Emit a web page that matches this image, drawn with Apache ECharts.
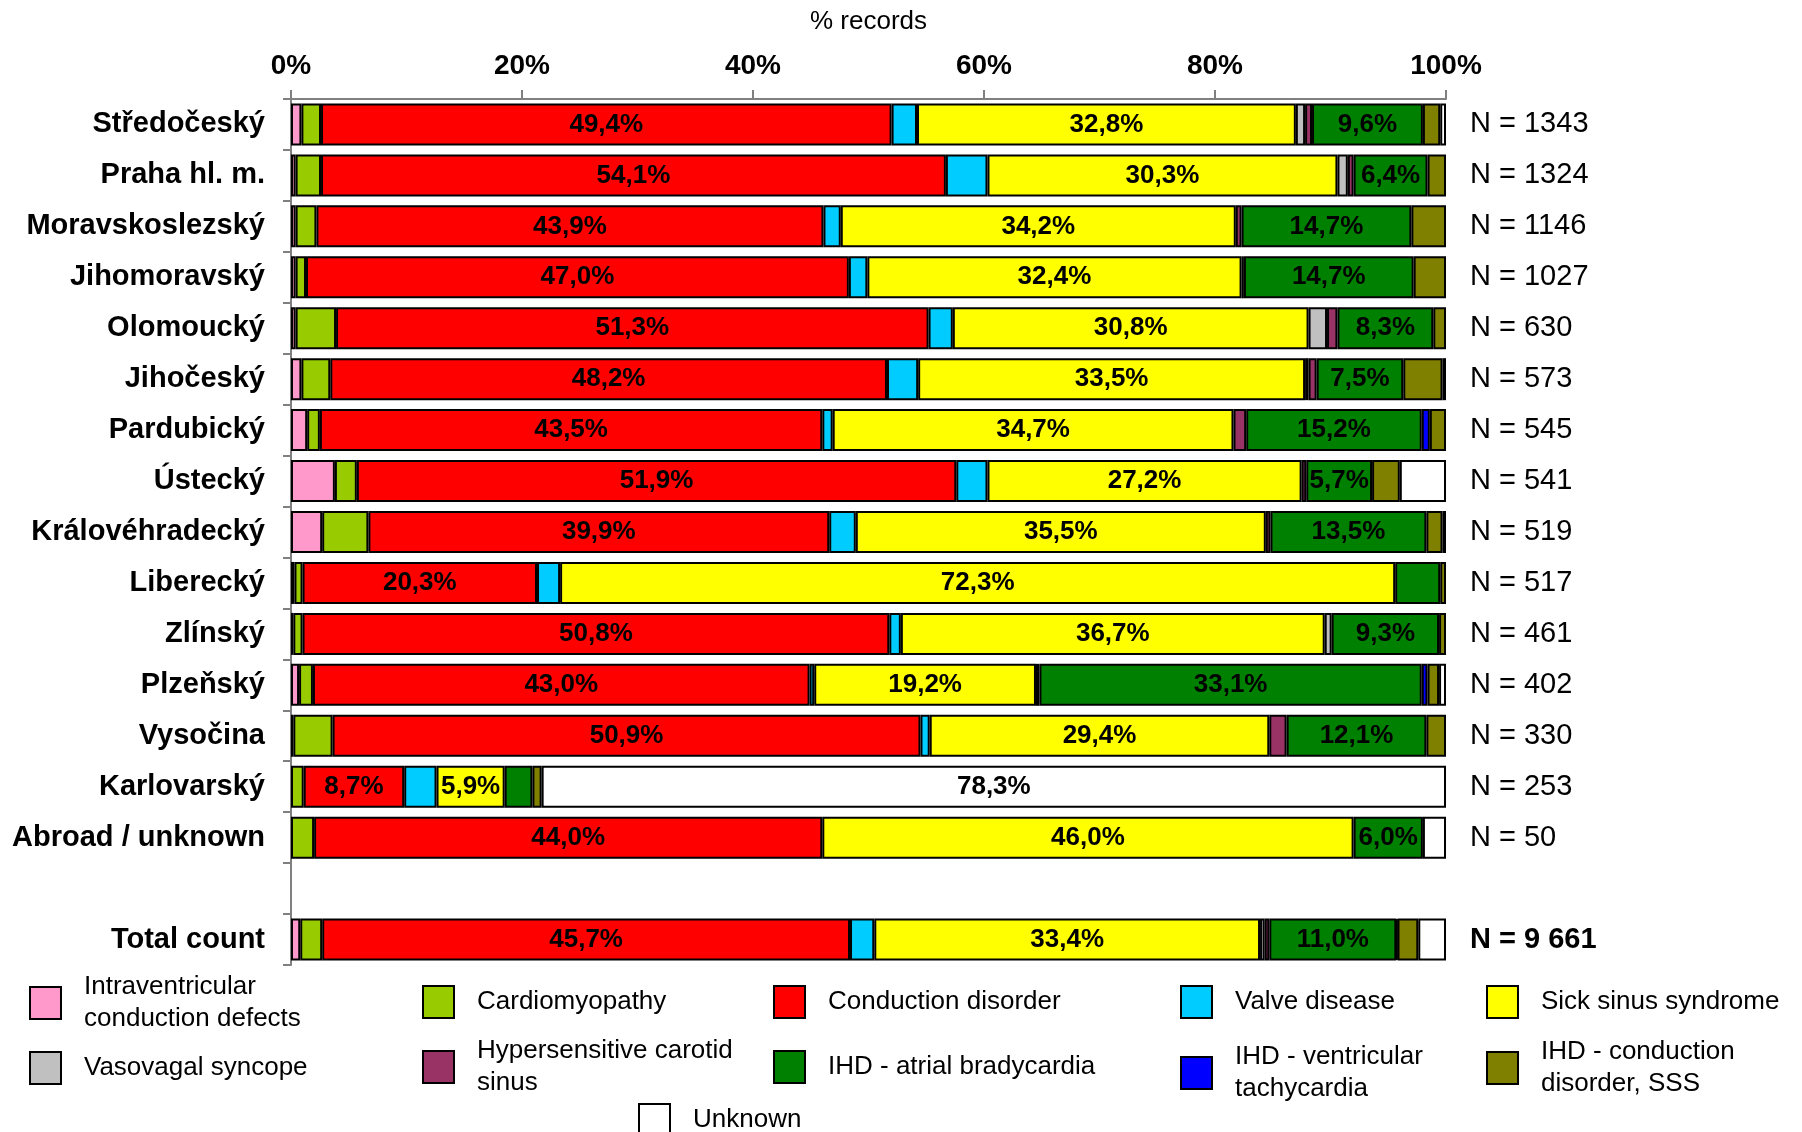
<!DOCTYPE html>
<html>
<head>
<meta charset="utf-8">
<title>Pacemaker indications by region</title>
<script src="https://cdn.jsdelivr.net/npm/echarts@6/dist/echarts.min.js"></script>
<style>
  html, body { margin: 0; padding: 0; background: #fff; }
  #chart { width: 1802px; height: 1132px; }
</style>
</head>
<body>
<div id="chart"></div>
<script>
// Regions (rows, top to bottom); the empty entry leaves a gap before the total row
const regions = ['Středočeský', 'Praha hl. m.', 'Moravskoslezský', 'Jihomoravský', 'Olomoucký',
  'Jihočeský', 'Pardubický', 'Ústecký', 'Královéhradecký', 'Liberecký', 'Zlínský', 'Plzeňský',
  'Vysočina', 'Karlovarský', 'Abroad / unknown', '', 'Total count'];

// Number of records per row
const nLabels = ['N = 1343', 'N = 1324', 'N = 1146', 'N = 1027', 'N = 630', 'N = 573', 'N = 545',
  'N = 541', 'N = 519', 'N = 517', 'N = 461', 'N = 402', 'N = 330', 'N = 253', 'N = 50', '', 'N = 9 661'];

// Share of records (%) per indication, one value per row
const intraventricular = [0.9, 0.4, 0.4, 0.4, 0.4, 0.9, 1.4, 3.8, 2.7, 0.3, 0.2, 0.7, 0.2, null, null, null, 0.8];
const cardiomyopathy   = [1.7, 2.2, 1.8, 0.9, 3.5, 2.5, 1.1, 1.9, 4.0, 0.7, 0.8, 1.2, 3.4, 1.1, 2.0, null, 1.9];
const conduction       = [49.4, 54.1, 43.9, 47.0, 51.3, 48.2, 43.5, 51.9, 39.9, 20.3, 50.8, 43.0, 50.9, 8.7, 44.0, null, 45.7];
const valve            = [2.2, 3.6, 1.5, 1.6, 2.1, 2.7, 0.9, 2.7, 2.3, 2.0, 1.0, 0.4, 0.8, 2.8, null, null, 2.1];
const sickSinus        = [32.8, 30.3, 34.2, 32.4, 30.8, 33.5, 34.7, 27.2, 35.5, 72.3, 36.7, 19.2, 29.4, 5.9, 46.0, null, 33.4];
const vasovagal        = [0.8, 0.9, null, null, 1.6, 0.3, null, null, null, null, 0.6, null, null, null, null, null, 0.4];
const carotidSinus     = [0.6, 0.5, 0.5, 0.2, 0.9, 0.7, 1.1, 0.4, 0.4, null, null, 0.3, 1.5, null, null, null, 0.4];
const ihdAtrial        = [9.6, 6.4, 14.7, 14.7, 8.3, 7.5, 15.2, 5.7, 13.5, 3.9, 9.3, 33.1, 12.1, 2.4, 6.0, null, 11.0];
const ihdVentricular   = [null, null, null, null, null, null, 0.7, null, null, null, null, 0.5, null, null, null, null, 0.1];
const ihdConduction    = [1.5, 1.6, 3.0, 2.8, 1.1, 3.4, 1.4, 2.4, 1.4, 0.5, 0.6, 1.0, 1.7, 0.8, null, null, 1.8];
const unknown          = [0.5, null, null, null, null, 0.3, null, 4.0, 0.3, null, null, 0.6, null, 78.3, 2.0, null, 2.4];

// X axis ticks
const tickValues = [0, 20, 40, 60, 80, 100];

const FONT = '"Liberation Sans", Arial, Helvetica, sans-serif';

const seriesDefs = [
  { name: 'Intraventricular conduction defects', legendText: 'Intraventricular\nconduction defects', data: intraventricular, color: '#FF99CC', label: false, pos: [29, 1003] },
  { name: 'Cardiomyopathy', legendText: 'Cardiomyopathy', data: cardiomyopathy, color: '#99CC00', label: false, pos: [422, 1001] },
  { name: 'Conduction disorder', legendText: 'Conduction disorder', data: conduction, color: '#FF0000', label: true, pos: [773, 1001] },
  { name: 'Valve disease', legendText: 'Valve disease', data: valve, color: '#00CCFF', label: false, pos: [1180, 1001] },
  { name: 'Sick sinus syndrome', legendText: 'Sick sinus syndrome', data: sickSinus, color: '#FFFF00', label: true, pos: [1486, 1001] },
  { name: 'Vasovagal syncope', legendText: 'Vasovagal syncope', data: vasovagal, color: '#C0C0C0', label: false, pos: [29, 1067] },
  { name: 'Hypersensitive carotid sinus', legendText: 'Hypersensitive carotid\nsinus', data: carotidSinus, color: '#993366', label: false, pos: [422, 1067] },
  { name: 'IHD - atrial bradycardia', legendText: 'IHD - atrial bradycardia', data: ihdAtrial, color: '#008000', label: true, pos: [773, 1066] },
  { name: 'IHD - ventricular tachycardia', legendText: 'IHD - ventricular\ntachycardia', data: ihdVentricular, color: '#0000FF', label: false, pos: [1180, 1073] },
  { name: 'IHD - conduction disorder, SSS', legendText: 'IHD - conduction\ndisorder, SSS', data: ihdConduction, color: '#808000', label: false, pos: [1486, 1068] },
  { name: 'Unknown', legendText: 'Unknown', data: unknown, color: '#FFFFFF', label: true, pos: [638, 1119] }
];

function pctLabel(v) {
  return v.toFixed(1).replace('.', ',') + '%';
}

const series = seriesDefs.map(d => ({
  name: d.name,
  type: 'bar',
  stack: 'share',
  barWidth: 42,
  data: d.data,
  itemStyle: { color: d.color, borderColor: '#000', borderWidth: 2 },
  label: {
    show: d.label,
    position: 'inside',
    color: '#000',
    fontFamily: FONT,
    fontWeight: 'bold',
    fontSize: 26,
    formatter: p => (p.value != null && p.value >= 5) ? pctLabel(p.value) : ''
  },
  emphasis: { disabled: true }
}));

const LEGEND_LINE = 32;
const legends = seriesDefs.map(d => {
  const lines = d.legendText.split('\n').length;
  const h = Math.max(32, lines * LEGEND_LINE);
  return {
    data: [d.name],
    left: d.pos[0],
    top: d.pos[1] - h / 2,
    padding: 0,
    itemWidth: 31,
    itemHeight: 32,
    icon: 'rect',
    selectedMode: false,
    itemStyle: { color: d.color, borderColor: '#000', borderWidth: 2 },
    formatter: () => d.legendText,
    textStyle: {
      fontFamily: FONT,
      fontSize: 26,
      color: '#000',
      lineHeight: LEGEND_LINE,
      padding: [0, 0, 0, 18]
    }
  };
});

const chart = echarts.init(document.getElementById('chart'), null, { renderer: 'canvas' });

chart.setOption({
  animation: false,
  backgroundColor: '#fff',
  textStyle: { fontFamily: FONT },
  grid: { left: 291, right: 356, top: 99, bottom: 167, containLabel: false },
  legend: legends,
  xAxis: {
    type: 'value',
    position: 'top',
    min: tickValues[0],
    max: tickValues[tickValues.length - 1],
    interval: tickValues[1] - tickValues[0],
    name: '% records',
    nameLocation: 'middle',
    nameGap: 64,
    nameTextStyle: { fontFamily: FONT, fontSize: 26, color: '#000' },
    axisLine: { show: true, lineStyle: { color: '#808080', width: 2 } },
    axisTick: { show: true, length: 9, lineStyle: { color: '#808080', width: 2 } },
    splitLine: { show: false },
    axisLabel: {
      fontFamily: FONT,
      fontSize: 28,
      fontWeight: 'bold',
      color: '#000',
      margin: 19,
      formatter: '{value}%'
    }
  },
  yAxis: [
    {
      type: 'category',
      inverse: true,
      data: regions,
      axisLine: { show: true, lineStyle: { color: '#808080', width: 2 } },
      axisTick: { show: true, length: 8, interval: 0, lineStyle: { color: '#808080', width: 2 } },
      axisLabel: {
        interval: 0,
        fontFamily: FONT,
        fontSize: 29,
        fontWeight: 'bold',
        color: '#000',
        margin: 26
      }
    },
    {
      type: 'category',
      inverse: true,
      position: 'right',
      data: nLabels,
      axisLine: { show: false },
      axisTick: { show: false },
      axisLabel: {
        interval: 0,
        fontFamily: FONT,
        fontSize: 29,
        color: '#000',
        margin: 24,
        formatter: (v, i) => i === nLabels.length - 1 ? '{b|' + v + '}' : v,
        rich: { b: { fontFamily: FONT, fontSize: 29, fontWeight: 'bold', color: '#000' } }
      }
    }
  ],
  series: series
});
</script>
</body>
</html>
